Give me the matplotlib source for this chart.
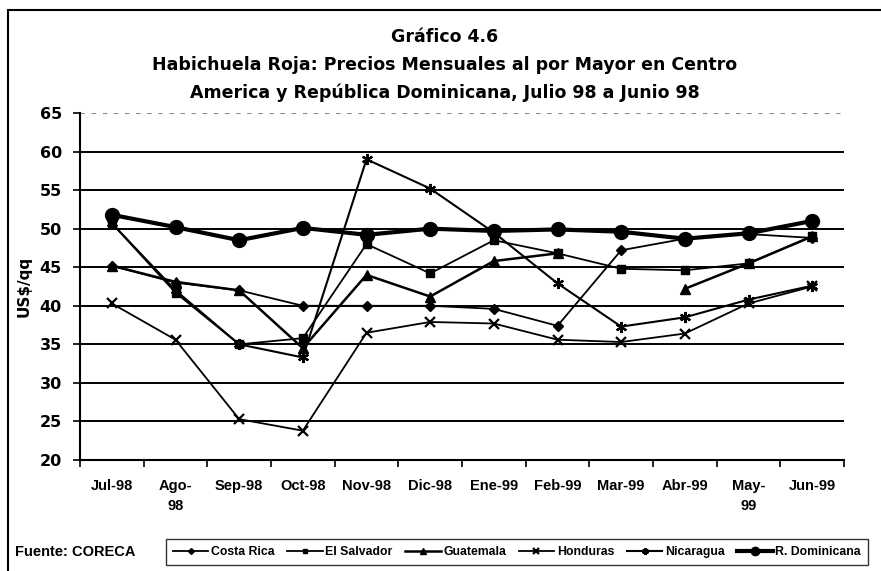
import numpy as np
import matplotlib
matplotlib.use("Agg")
import matplotlib.pyplot as plt
from matplotlib.patches import Rectangle

plt.rcParams['font.family'] = ['Liberation Sans', 'DejaVu Sans']
plt.rcParams['font.weight'] = 'bold'

meses = ['Jul-98', 'Ago-\n98', 'Sep-98', 'Oct-98', 'Nov-98', 'Dic-98',
         'Ene-99', 'Feb-99', 'Mar-99', 'Abr-99', 'May-\n99', 'Jun-99']

costa_rica = [45.2, 43.0, 42.0, 40.0, 40.0, 40.0, 39.6, 37.4, 47.2, 48.7, 49.3, 48.8]
el_salvador = [50.7, 41.7, 35.0, 35.8, 48.0, 44.2, 48.5, 46.8, 44.8, 44.6, 45.5, 49.0]
guatemala = [45.2, 43.1, 42.0, 34.5, 44.0, 41.2, 45.8, 46.8, np.nan, 42.2, 45.5, 49.0]
honduras = [40.3, 35.6, 25.3, 23.8, 36.5, 37.9, 37.7, 35.6, 35.3, 36.4, 40.3, 42.5]
nicaragua = [50.7, 42.0, 35.0, 33.3, 59.0, 55.2, 49.5, 42.9, 37.3, 38.5, 40.8, 42.6]
r_dominicana = [51.8, 50.2, 48.5, 50.1, 49.2, 50.0, 49.7, 49.9, 49.6, 48.7, 49.4, 51.0]

fig = plt.figure(figsize=(8.81, 5.71), dpi=100)
ax = fig.add_axes([80/881, 1 - 460/571, 764/881, 347/571])

x = np.arange(len(meses))
ax.plot(x, costa_rica, '-', color='black', lw=1.3, marker='D', ms=5, label='Costa Rica')
ax.plot(x, el_salvador, '-', color='black', lw=1.3, marker='s', ms=6, label='El Salvador')
ax.plot(x, guatemala, '-', color='black', lw=1.8, marker='^', ms=7, label='Guatemala')
ax.plot(x, honduras, '-', color='black', lw=1.3, marker='x', ms=7, mew=1.6, label='Honduras')
ax.plot(x, nicaragua, '-', color='black', lw=1.5, marker=(6, 2, 0), ms=8, mew=1.6, label='Nicaragua')
ax.plot(x, r_dominicana, '-', color='black', lw=3, marker='o', ms=10, label='R. Dominicana')

ax.set_xlim(-0.5, len(meses) - 0.5)
ax.set_ylim(20, 65)
ax.set_yticks(range(20, 66, 5))
for v in range(25, 61, 5):
    ax.axhline(v, color='black', lw=1.4, zorder=0)
ax.axhline(65, color='0.55', lw=0.8, ls=(0, (4, 6)), zorder=0)

ax.set_xticks(x)
ax.set_xticklabels(meses, fontsize=10.5, fontweight='bold', linespacing=1.5, va='top')
ax.set_xticks(np.arange(-0.5, len(meses)), minor=True)
ax.tick_params(axis='x', which='major', length=0, pad=14)
ax.tick_params(axis='x', which='minor', length=5, width=1.2, direction='out')
ax.tick_params(axis='y', length=5, width=1.2, direction='out', labelsize=11.5, pad=8)
for lab in ax.get_yticklabels():
    lab.set_fontweight('bold')
    lab.set_family('DejaVu Sans')

for s in ['top', 'right']:
    ax.spines[s].set_visible(False)
for s in ['left', 'bottom']:
    ax.spines[s].set_linewidth(1.5)

ax.set_ylabel('US$/qq', fontsize=11, fontweight='bold', labelpad=6, family='DejaVu Sans')

title_font = dict(ha='center', va='center', fontsize=12.5, fontweight='bold', family='DejaVu Sans')
fig.text(0.505, 1 - 37/571, 'Gráfico 4.6', **title_font)
fig.text(0.505, 1 - 65/571, 'Habichuela Roja: Precios Mensuales al por Mayor en Centro', **title_font)
fig.text(0.505, 1 - 93/571, 'America y República Dominicana, Julio 98 a Junio 98', **title_font)

fig.text(15/881, 1 - 552/571, 'Fuente: CORECA', ha='left', va='center', fontsize=10.5, fontweight='bold')

leg = fig.legend(loc='center left', bbox_to_anchor=(160/881, 1 - 552/571), ncol=6,
                 fontsize=8.8, frameon=True, fancybox=False, edgecolor='black',
                 handlelength=2.9, handletextpad=0.2, columnspacing=1.05,
                 borderpad=0.55, markerscale=0.6)
leg.get_frame().set_linewidth(1.0)
for t in leg.get_texts():
    t.set_fontweight('bold')

# outer frame
fig.patches.append(Rectangle((8/881, -0.05), 1.0, 1 - 10/571 + 0.05, transform=fig.transFigure,
                             fill=False, edgecolor='black', lw=1.5))

fig.savefig('out.png', dpi=100)
